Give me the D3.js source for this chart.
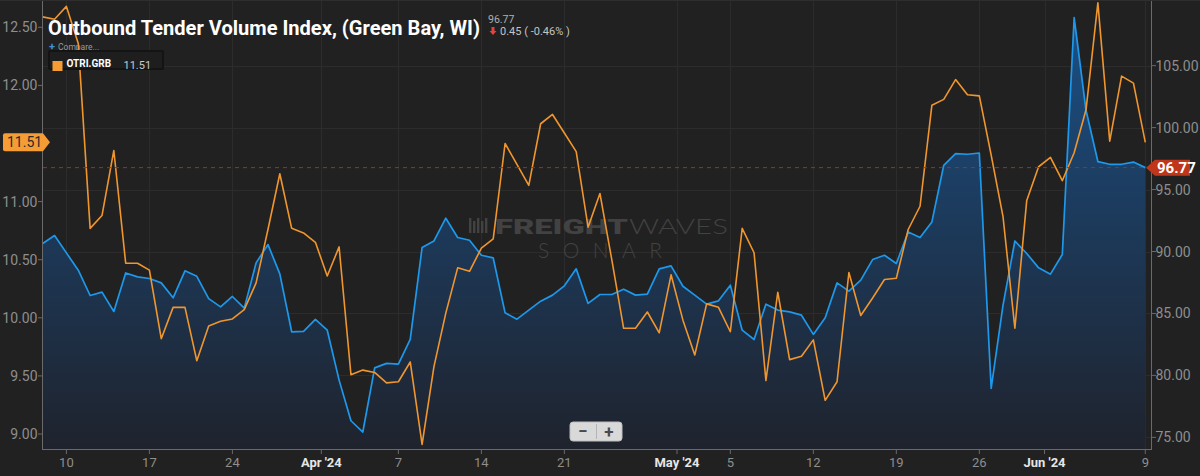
<!DOCTYPE html>
<html lang="en">
<head>
<meta charset="UTF-8">
<title>Outbound Tender Volume Index, (Green Bay, WI)</title>
<script src="https://d3js.org/d3.v7.min.js"></script>
<style>
  body { margin: 0; background: #212121; font-family: Roboto, "Noto Sans", sans-serif; }
  svg { display: block; }
  .tick-day { fill: #8e8e8e; font-size: 13px; }
  .tick-month { fill: #e6e6e6; font-size: 13px; font-weight: bold; }
  .ylab { fill: #8e8e8e; font-size: 14px; }
</style>
</head>
<body>
<script>
// daily observations, first and last day
const firstDay = "2024-03-08";
const lastDay = "2024-06-09";

// Outbound Tender Volume Index, Green Bay (right axis)
const otvi = [
  90.65, 91.29, 89.89, 88.49, 86.45, 86.72, 85.16, 88.27, 87.95, 87.82,
  87.47, 86.26, 88.44, 88.00, 86.20, 85.53, 86.37, 85.43, 89.08, 90.56,
  88.20, 83.52, 83.55, 84.52, 83.65, 79.62, 76.34, 75.43, 80.61, 80.97,
  80.91, 82.90, 90.32, 90.85, 92.69, 91.13, 90.91, 89.70, 89.48, 85.05,
  84.54, 85.27, 85.99, 86.48, 87.23, 88.60, 85.81, 86.53, 86.53, 86.96,
  86.48, 86.56, 88.60, 88.84, 87.20, 86.48, 85.75, 86.02, 87.28, 83.65,
  82.90, 85.75, 85.27, 85.13, 84.86, 83.31, 84.65, 87.47, 86.80, 87.69,
  89.35, 89.70, 89.03, 91.58, 91.13, 92.39, 96.96, 97.90, 97.85, 97.95,
  78.95, 85.67, 90.85, 89.84, 88.68, 88.17, 89.76, 108.87, 101.40, 97.26,
  97.04, 97.04, 97.22, 96.77
];

// OTRI.GRB (left axis)
const otri = [
  12.59, 12.57, 12.68, 12.36, 10.77, 10.88, 11.44, 10.47, 10.47, 10.41,
  9.82, 10.09, 10.09, 9.63, 9.93, 9.97, 9.99, 10.07, 10.30, 10.76,
  11.24, 10.77, 10.73, 10.65, 10.36, 10.61, 9.51, 9.55, 9.53, 9.44,
  9.45, 9.62, 8.91, 9.58, 10.04, 10.43, 10.40, 10.60, 10.68, 11.50,
  11.32, 11.14, 11.67, 11.75, 11.59, 11.43, 10.78, 11.07, 10.50, 9.91,
  9.91, 10.05, 9.87, 10.37, 9.98, 9.68, 10.12, 10.09, 9.88, 10.77,
  10.56, 9.46, 10.22, 9.64, 9.67, 9.81, 9.29, 9.45, 10.39, 10.02,
  10.17, 10.33, 10.34, 10.76, 10.96, 11.83, 11.88, 12.05, 11.92, 11.91,
  11.40, 10.87, 9.91, 11.01, 11.30, 11.38, 11.18, 11.42, 11.79, 12.71,
  11.52, 12.08, 12.02, 11.51
];

const dayTicks = ["2024-03-10", "2024-03-17", "2024-03-24", "2024-04-07", "2024-04-14",
  "2024-04-21", "2024-05-05", "2024-05-12", "2024-05-19", "2024-05-26", "2024-06-09"];
const monthTicks = ["2024-04-01", "2024-05-01", "2024-06-01"];
const monthLabels = ["Apr '24", "May '24", "Jun '24"];
const leftTicks = [9.0, 9.5, 10.0, 10.5, 11.0, 11.5, 12.0, 12.5];
const rightTicks = [75, 80, 85, 90, 95, 100, 105];

const W = 1200, H = 476;
const plot = { left: 43, right: 1151, top: 0, bottom: 449 };

const parseDay = d3.timeParse("%Y-%m-%d");
// observations are stamped mid-day
const noon = d => d3.timeHour.offset(parseDay(d), 12);
const days = d3.timeDay.range(parseDay(firstDay), d3.timeDay.offset(parseDay(lastDay), 1))
  .map(d => d3.timeHour.offset(d, 12));

const x = d3.scaleTime()
  .domain([days[0], days[days.length - 1]])
  .range([42.7, 1145.3]);
const yL = d3.scaleLinear().domain([8.871, 12.735]).range([plot.bottom, plot.top]);
const yR = d3.scaleLinear().domain([74.06, 110.3]).range([plot.bottom, plot.top]);

const svg = d3.select("body").append("svg")
  .attr("width", W).attr("height", H)
  .attr("viewBox", [0, 0, W, H]);

svg.append("rect").attr("width", W).attr("height", H).attr("fill", "#212121");

const defs = svg.append("defs");
const grad = defs.append("linearGradient")
  .attr("id", "areaGrad").attr("gradientUnits", "userSpaceOnUse")
  .attr("x1", 0).attr("x2", 0).attr("y1", plot.top).attr("y2", plot.bottom);
grad.append("stop").attr("offset", 0).attr("stop-color", "#1b5288");
grad.append("stop").attr("offset", 0.4).attr("stop-color", "#1c3e63");
grad.append("stop").attr("offset", 1).attr("stop-color", "#1f232d");

// grid
const grid = svg.append("g").attr("stroke", "#2c2c2c").attr("stroke-width", 1);
grid.selectAll(".hg").data(rightTicks).join("line")
  .attr("x1", plot.left).attr("x2", plot.right)
  .attr("y1", d => Math.round(yR(d)) + 0.5).attr("y2", d => Math.round(yR(d)) + 0.5);
const allTicks = dayTicks.map(noon).concat(monthTicks.map(parseDay));
grid.selectAll(".vg").data(allTicks).join("line")
  .attr("x1", d => Math.round(x(d)) + 0.5).attr("x2", d => Math.round(x(d)) + 0.5)
  .attr("y1", plot.top).attr("y2", plot.bottom);

// watermark
const wm = svg.append("g").attr("fill", "#424242");
const icon = wm.append("g");
[0, 4, 8, 12, 16].forEach((dx, i) => {
  icon.append("rect").attr("x", 469 + dx).attr("y", 218 + (i % 2) * 3)
    .attr("width", 2.4).attr("height", 15 - (i % 2) * 3);
});
wm.append("text").attr("x", 495).attr("y", 233.5)
  .attr("font-weight", 900).attr("font-size", 21)
  .attr("textLength", 133).attr("lengthAdjust", "spacingAndGlyphs").text("FREIGHT");
wm.append("text").attr("x", 629).attr("y", 233.5)
  .attr("font-family", "Lato, Roboto, sans-serif").attr("font-weight", 300)
  .attr("font-size", 21).attr("textLength", 99).attr("lengthAdjust", "spacingAndGlyphs").text("WAVES");
wm.append("text").attr("x", 538).attr("y", 257.5)
  .attr("font-family", "Lato, Roboto, sans-serif").attr("font-weight", 300)
  .attr("font-size", 21).attr("textLength", 124).text("SONAR");

// area + blue line
const area = d3.area()
  .x((d, i) => x(days[i]))
  .y0(plot.bottom)
  .y1(d => yR(d));
svg.append("path").datum(otvi).attr("d", area).attr("fill", "url(#areaGrad)");

const lineR = d3.line().x((d, i) => x(days[i])).y(d => yR(d));
svg.append("path").datum(otvi).attr("d", lineR)
  .attr("fill", "none").attr("stroke", "#1e98ea").attr("stroke-width", 1.7)
  .attr("stroke-linejoin", "round");

const lineL = d3.line().x((d, i) => x(days[i])).y(d => yL(d));
svg.append("path").datum(otri).attr("d", lineL)
  .attr("fill", "none").attr("stroke", "#f0962e").attr("stroke-width", 1.6)
  .attr("stroke-linejoin", "round");

// last value guide
const lastR = otvi[otvi.length - 1];
svg.append("line")
  .attr("x1", plot.left).attr("x2", x(days[days.length - 1]))
  .attr("y1", yR(lastR)).attr("y2", yR(lastR))
  .attr("stroke", "#9a3320").attr("stroke-width", 1).attr("stroke-dasharray", "4,4");

// axes frame
const frame = svg.append("g").attr("stroke", "#6a6a6a").attr("stroke-width", 1);
frame.append("line").attr("x1", plot.left - 0.5).attr("x2", plot.left - 0.5).attr("y1", 0).attr("y2", plot.bottom);
frame.append("line").attr("x1", plot.right + 0.5).attr("x2", plot.right + 0.5).attr("y1", 0).attr("y2", plot.bottom);
frame.append("line").attr("x1", plot.left - 1).attr("x2", plot.right + 1).attr("y1", plot.bottom + 0.5).attr("y2", plot.bottom + 0.5);
svg.append("line").attr("x1", 0).attr("x2", W).attr("y1", 0.5).attr("y2", 0.5)
  .attr("stroke", "#2e2e2e");

const lastL = otri[otri.length - 1];
const yl = yL(lastL);

// left axis (the label under the last-value badge is hidden, as in the source)
const la = svg.append("g");
la.selectAll("line").data(leftTicks).join("line")
  .attr("x1", plot.left - 5).attr("x2", plot.left - 1)
  .attr("y1", d => yL(d)).attr("y2", d => yL(d))
  .attr("stroke", "#6a6a6a");
la.selectAll("text").data(leftTicks.filter(d => Math.abs(yL(d) - yl) > 14)).join("text")
  .attr("class", "ylab").attr("x", 37.5).attr("y", d => yL(d) + 5)
  .attr("text-anchor", "end").text(d => d.toFixed(2));

// right axis
const ra = svg.append("g");
ra.selectAll("line").data(rightTicks).join("line")
  .attr("x1", plot.right + 1).attr("x2", plot.right + 5)
  .attr("y1", d => yR(d)).attr("y2", d => yR(d))
  .attr("stroke", "#6a6a6a");
ra.selectAll("text").data(rightTicks).join("text")
  .attr("class", "ylab").attr("x", 1155.5).attr("y", d => yR(d) + 5)
  .text(d => d.toFixed(2));

// bottom axis
const ba = svg.append("g");
ba.selectAll("line").data(allTicks).join("line")
  .attr("x1", d => x(d)).attr("x2", d => x(d))
  .attr("y1", plot.bottom + 1).attr("y2", plot.bottom + 5)
  .attr("stroke", "#6a6a6a");
ba.selectAll(".d").data(dayTicks).join("text")
  .attr("class", "tick-day").attr("x", d => x(noon(d))).attr("y", 467)
  .attr("text-anchor", "middle").text(d => +d.slice(8));
ba.selectAll(".m").data(monthTicks).join("text")
  .attr("class", "tick-month").attr("x", d => x(parseDay(d))).attr("y", 467)
  .attr("text-anchor", "middle").text((d, i) => monthLabels[i]);

// last value badges
const yb = yR(lastR);
svg.append("path")
  .attr("d", `M${plot.right - 5},${yb} L${plot.right + 4},${yb - 8} H1190 V${yb + 8} H${plot.right + 4} Z`)
  .attr("fill", "#c0361a");
svg.append("text").attr("x", 1157).attr("y", yb + 5.5)
  .attr("fill", "#fff").attr("font-size", 15).attr("font-weight", "bold")
  .text(lastR.toFixed(2));

svg.append("path")
  .attr("d", `M5,${yl - 9} H43 L50,${yl} L43,${yl + 9} H5 Q3,${yl + 9} 3,${yl + 7} V${yl - 7} Q3,${yl - 9} 5,${yl - 9} Z`)
  .attr("fill", "#f59c34");
svg.append("text").attr("x", 7).attr("y", yl + 5)
  .attr("fill", "#2a2a2a").attr("font-size", 14)
  .text(lastL.toFixed(2));

// header
svg.append("text").attr("x", 48).attr("y", 35)
  .attr("fill", "#fff").attr("font-size", 20).attr("font-weight", "bold")
  .attr("textLength", 432).attr("lengthAdjust", "spacingAndGlyphs")
  .text("Outbound Tender Volume Index, (Green Bay, WI)");
svg.append("text").attr("x", 488).attr("y", 23)
  .attr("fill", "#b0b0b0").attr("font-size", 10.5).text(lastR.toFixed(2));
// down arrow marker
svg.append("path")
  .attr("d", "M491.5,27 V31 H489.5 L493,35 L496.5,31 H494.5 V27 Z")
  .attr("fill", "#e0453c");
svg.append("text").attr("x", 500).attr("y", 34.5)
  .attr("fill", "#c4c4c4").attr("font-size", 11).text("0.45 ( -0.46% )");

svg.append("text").attr("x", 49).attr("y", 50)
  .attr("fill", "#3b8fe0").attr("font-size", 11).attr("font-weight", "bold").text("+");
svg.append("text").attr("x", 58).attr("y", 49.5)
  .attr("fill", "#9a9a9a").attr("font-size", 8.5).text("Compare...");

svg.append("rect").attr("x", 49).attr("y", 51).attr("width", 114).attr("height", 18)
  .attr("fill", "#1e1e1e").attr("stroke", "#141414").attr("stroke-width", 2).attr("rx", 1);
svg.append("rect").attr("x", 52.5).attr("y", 61).attr("width", 10).attr("height", 10)
  .attr("fill", "#f59c34");
svg.append("text").attr("x", 66.5).attr("y", 67)
  .attr("fill", "#fff").attr("font-size", 10).attr("font-weight", "bold").text("OTRI.GRB");
svg.append("text").attr("x", 123.5).attr("y", 69)
  .attr("fill", "#c8c8c8").attr("font-size", 11).text(lastL.toFixed(2));

// zoom buttons
const zb = svg.append("g");
zb.append("rect").attr("x", 570).attr("y", 422).attr("width", 52).attr("height", 19)
  .attr("rx", 3).attr("fill", "#d9d9d9").attr("stroke", "#bdbdbd");
zb.append("line").attr("x1", 596.5).attr("x2", 596.5).attr("y1", 424).attr("y2", 439)
  .attr("stroke", "#b5b5b5");
zb.append("text").attr("x", 583).attr("y", 437).attr("text-anchor", "middle")
  .attr("fill", "#4a4a4a").attr("font-size", 17).attr("font-weight", "bold").text("−");
zb.append("text").attr("x", 609).attr("y", 437.5).attr("text-anchor", "middle")
  .attr("fill", "#4a4a4a").attr("font-size", 17).attr("font-weight", "bold").text("+");
</script>
</body>
</html>
